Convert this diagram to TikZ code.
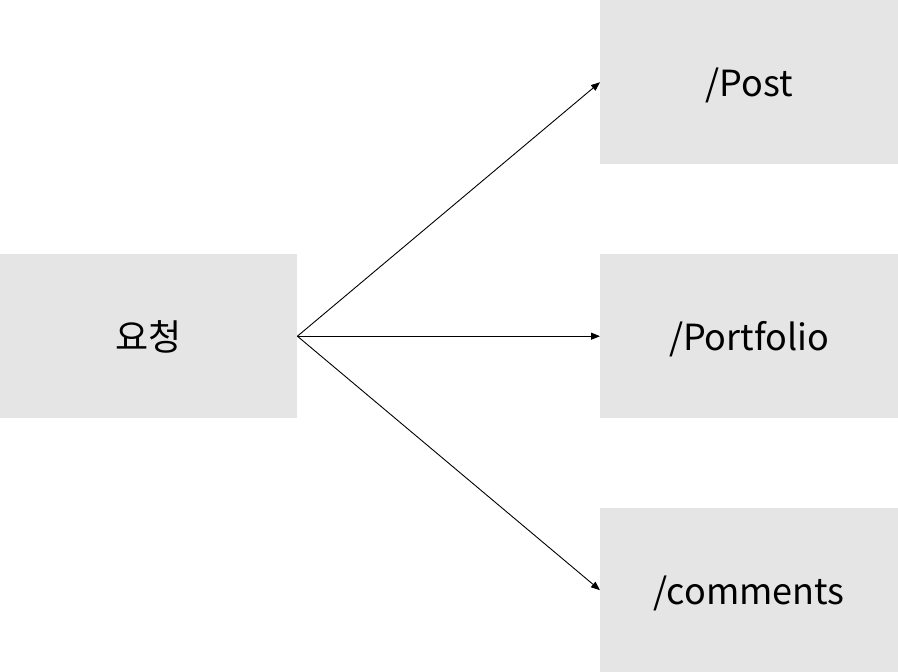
\documentclass[tikz,border=0pt]{standalone}
\usepackage{fontspec}
\setmainfont{Noto Sans CJK KR}
\usetikzlibrary{arrows.meta}
\begin{document}
\begin{tikzpicture}[x=1pt,y=-1pt,
  boxnode/.style={fill=black!10, draw=none, minimum width=298pt, minimum height=164pt, inner sep=0pt, text height=32pt, text depth=4pt, font=\fontsize{36}{40}\selectfont, anchor=north west},
  conn/.style={draw=black, line width=0.9pt, -{Triangle[length=9pt,width=7pt]}}]
\useasboundingbox (0,0) rectangle (898,672);
\node[boxnode, minimum width=297pt] (req) at (0,254) {요청};
\node[boxnode] (post) at (600,0) {/Post};
\node[boxnode] (port) at (600,254) {/Portfolio};
\node[boxnode] (comm) at (600,508) {/comments};
\coordinate (src) at (req.east);
\draw[conn] (src) -- (post.west);
\draw[conn] (src) -- (port.west);
\draw[conn] (src) -- (comm.west);
\end{tikzpicture}
\end{document}
